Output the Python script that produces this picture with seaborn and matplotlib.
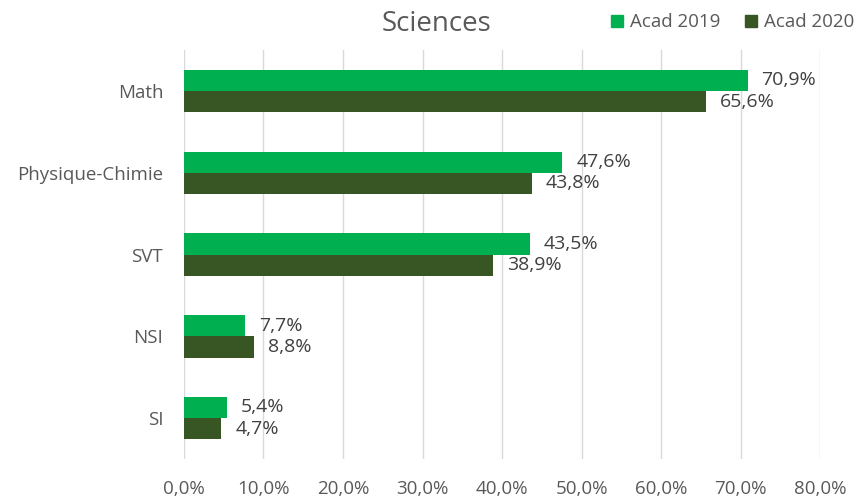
import matplotlib
matplotlib.use("Agg")
import matplotlib.pyplot as plt
import seaborn as sns
import pandas as pd
from matplotlib.lines import Line2D

categories = ["Math", "Physique-Chimie", "SVT", "NSI", "SI"]
acad_2019 = [70.9, 47.6, 43.5, 7.7, 5.4]
acad_2020 = [65.6, 43.8, 38.9, 8.8, 4.7]
series_names = ["Acad 2019", "Acad 2020"]
colors = ["#00B050", "#375623"]
xticks = [0, 10, 20, 30, 40, 50, 60, 70, 80]

df = pd.DataFrame({
    "cat": categories * 2,
    "val": acad_2019 + acad_2020,
    "series": [series_names[0]] * 5 + [series_names[1]] * 5,
})

sns.set_theme(style="white")
plt.rcParams['font.family'] = ['Open Sans', 'DejaVu Sans']
txt = "#595959"

fig = plt.figure(figsize=(8.61, 4.97), dpi=100)
ax = fig.add_axes([0.2137, 0.0765, 0.7387, 0.8225])
sns.barplot(data=df, y="cat", x="val", hue="series", orient="h",
            palette=colors, width=0.52, ax=ax, legend=False, saturation=1,
            linewidth=0)

for cont in ax.containers:
    ax.bar_label(cont, labels=[f"{v:.1f}%".replace(".", ",") for v in cont.datavalues],
                 padding=10, fontsize=14, color="#404040")

ax.set_xlim(0, 80)
ax.set_xticks(xticks)
ax.set_xticklabels([f"{t:.1f}%".replace(".", ",") for t in xticks], fontsize=13.5, color=txt)
ax.tick_params(axis="y", labelsize=13.5, labelcolor=txt, length=0, pad=15)
ax.tick_params(axis="x", length=0, pad=15)
ax.set_xlabel("")
ax.set_ylabel("")
ax.xaxis.grid(True, color="#D9D9D9", linewidth=1)
ax.set_axisbelow(True)
for s in ax.spines.values():
    s.set_visible(False)

fig.text(0.507, 0.952, "Sciences", ha="center", va="center", fontsize=20, color=txt)

handles = [Line2D([], [], marker="s", linestyle="", markersize=8, color=c) for c in colors]
fig.legend(handles, series_names, loc="center right", bbox_to_anchor=(1.012, 0.955), ncol=2,
           frameon=False, fontsize=13.5, labelcolor=txt, handlelength=0.7,
           handletextpad=0.35, columnspacing=1.3)

fig.savefig("out.png", dpi=100)
